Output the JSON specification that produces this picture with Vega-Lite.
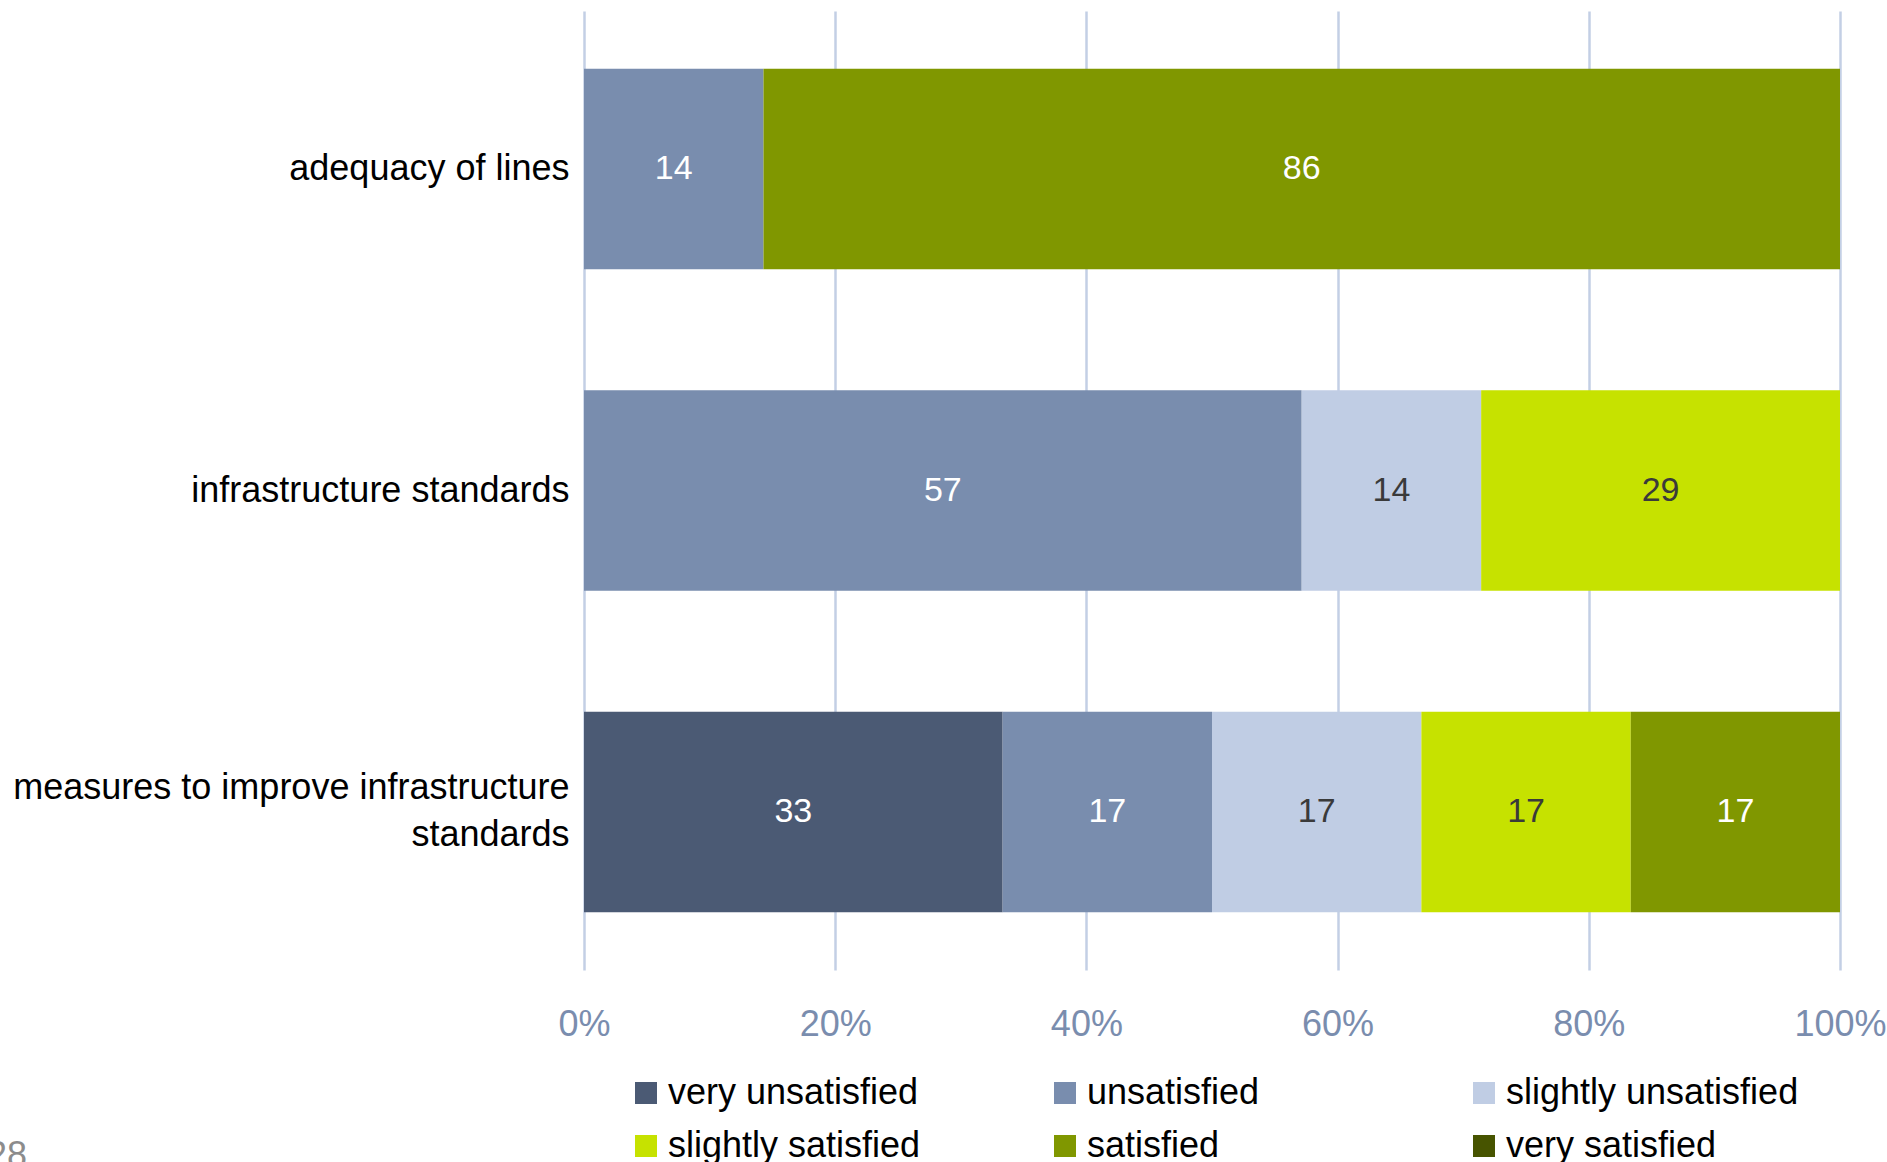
{
  "$schema": "https://vega.github.io/schema/vega-lite/v6.json",
  "width": 1256,
  "height": 959,
  "autosize": {"type": "none"},
  "padding": {"left": 584, "top": 11, "right": 47, "bottom": 192},
  "config": {
    "font": "Liberation Sans",
    "view": {"stroke": null},
    "legend": {"padding": 0}
  },
  "title": {
    "text": "28",
    "orient": "bottom",
    "anchor": "start",
    "frame": "group",
    "dx": -597,
    "offset": -25,
    "fontSize": 36,
    "fontWeight": "normal",
    "color": "#8c8c8c"
  },
  "data": {
    "values": [
      {"item": "adequacy of lines", "category": "unsatisfied", "order": 2, "value": 14.29},
      {"item": "adequacy of lines", "category": "satisfied", "order": 5, "value": 85.71},
      {"item": "infrastructure standards", "category": "unsatisfied", "order": 2, "value": 57.14},
      {"item": "infrastructure standards", "category": "slightly unsatisfied", "order": 3, "value": 14.29},
      {"item": "infrastructure standards", "category": "slightly satisfied", "order": 4, "value": 28.57},
      {"item": "measures to improve infrastructure standards", "category": "very unsatisfied", "order": 1, "value": 33.33},
      {"item": "measures to improve infrastructure standards", "category": "unsatisfied", "order": 2, "value": 16.67},
      {"item": "measures to improve infrastructure standards", "category": "slightly unsatisfied", "order": 3, "value": 16.67},
      {"item": "measures to improve infrastructure standards", "category": "slightly satisfied", "order": 4, "value": 16.67},
      {"item": "measures to improve infrastructure standards", "category": "satisfied", "order": 5, "value": 16.66}
    ]
  },
  "transform": [
    {"stack": "value", "groupby": ["item"], "sort": [{"field": "order"}], "as": ["x0", "x1"], "offset": "normalize"},
    {"calculate": "(datum.x0 + datum.x1) / 2", "as": "mid"}
  ],
  "encoding": {
    "y": {
      "field": "item",
      "type": "nominal",
      "sort": ["adequacy of lines", "infrastructure standards", "measures to improve infrastructure standards"],
      "scale": {"paddingInner": 0.377, "paddingOuter": 0.18},
      "axis": {
        "title": null,
        "ticks": false,
        "domain": false,
        "labelFontSize": 36,
        "labelColor": "#000000",
        "labelPadding": 15,
        "labelLimit": 0,
        "labelLineHeight": 47,
        "labelOffset": {"condition": {"test": "datum.value == 'measures to improve infrastructure standards'", "value": -24}, "value": 0},
        "labelExpr": "datum.label == 'measures to improve infrastructure standards' ? ['measures to improve infrastructure', 'standards'] : datum.label"
      }
    }
  },
  "layer": [
    {
      "mark": {"type": "bar"},
      "encoding": {
        "x": {
          "field": "x0",
          "type": "quantitative",
          "scale": {"domain": [0, 1], "nice": false},
          "axis": {
            "title": null,
            "format": ".0%",
            "values": [0, 0.2, 0.4, 0.6, 0.8, 1],
            "grid": true,
            "gridColor": "#C3CFE5",
            "gridWidth": 2.5,
            "ticks": false,
            "domain": false,
            "labelFontSize": 36,
            "labelColor": "#7A8DAE",
            "labelPadding": 37,
            "labelFlush": false,
            "labelBound": false,
            "labelOverlap": false
          }
        },
        "x2": {"field": "x1"},
        "color": {
          "field": "category",
          "type": "nominal",
          "scale": {
            "domain": ["very unsatisfied", "unsatisfied", "slightly unsatisfied", "slightly satisfied", "satisfied", "very satisfied"],
            "range": ["#4B5A74", "#798DAE", "#C0CDE4", "#C6E200", "#809700", "#475400"]
          },
          "legend": {
            "title": null,
            "orient": "none",
            "legendX": 44,
            "legendY": 1064,
            "columns": 3,
            "direction": "horizontal",
            "gridAlign": "all",
            "symbolType": "square",
            "symbolSize": 484,
            "symbolStrokeWidth": 0,
            "symbolOpacity": 1,
            "labelFontSize": 36,
            "labelColor": "#000000",
            "labelOffset": 4,
            "labelLimit": 0,
            "columnPadding": 86,
            "rowPadding": 17
          }
        }
      }
    },
    {
      "mark": {"type": "text", "fontSize": 34, "baseline": "middle", "align": "center"},
      "encoding": {
        "x": {"field": "mid", "type": "quantitative"},
        "text": {"field": "value", "type": "quantitative", "format": ".0f"},
        "color": {
          "condition": {"test": "datum.category == 'slightly unsatisfied' || datum.category == 'slightly satisfied'", "value": "#3a3a3a"},
          "value": "#ffffff"
        }
      }
    }
  ]
}
